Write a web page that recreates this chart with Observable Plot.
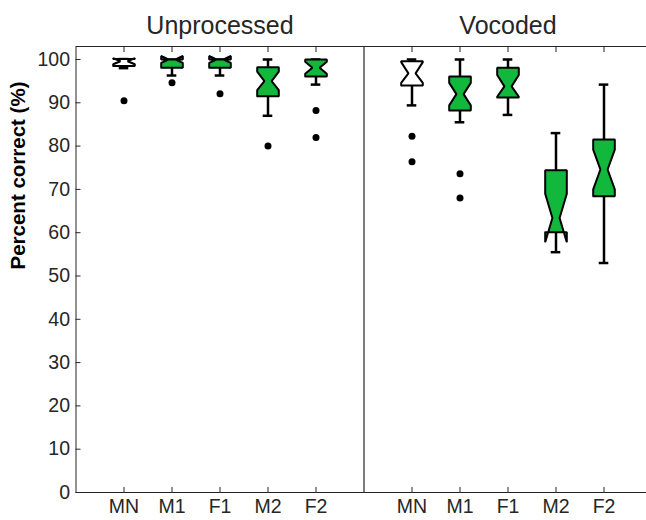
<!DOCTYPE html>
<html>
<head>
<meta charset="utf-8">
<script src="https://cdn.jsdelivr.net/npm/d3@7"></script>
<script src="https://cdn.jsdelivr.net/npm/@observablehq/plot@0.6"></script>
<style>
  html, body { margin: 0; padding: 0; background: #fff; }
  #chart svg { max-width: none !important; }
</style>
</head>
<body>
<div id="chart"></div>
<script>
// ---- data ----
const groups = ["MN", "M1", "F1", "M2", "F2"];
const conditions = ["Unprocessed", "Vocoded"];
// rows: Unprocessed, Vocoded ; columns follow groups
const whiskerLo = [[98.0, 96.3, 96.3, 87.0, 94.2], [89.4, 85.5, 87.2, 55.5, 53.0]];
const q1        = [[98.5, 98.1, 98.1, 91.5, 96.1], [94.0, 88.2, 91.2, 60.1, 68.4]];
const notchLo   = [[98.9, 99.2, 99.2, 92.9, 96.7], [94.6, 89.4, 91.4, 57.8, 70.0]];
const median    = [[99.6, 100, 100, 95.0, 98.1], [96.8, 92.0, 93.8, 63.4, 74.6]];
const notchHi   = [[100.3, 100.8, 100.8, 97.2, 99.5], [99.4, 94.6, 96.4, 69.0, 79.2]];
const q3        = [[100.1, 100, 100, 98.2, 100], [99.6, 96.1, 98.1, 74.4, 81.5]];
const whiskerHi = [[100.1, 100, 100, 100, 100], [100, 100, 100, 83.0, 94.2]];
const outliers  = [[[90.5], [94.6], [92.1], [80.0], [88.2, 82.0]],
                   [[82.3, 76.4], [73.6, 68.0], [], [], []]];
const yTicks = [0, 10, 20, 30, 40, 50, 60, 70, 80, 90, 100];

// ---- derived tables ----
const W = 0.225, D = 0.15, CAP = 0.1;
const boxes = [], polys = [], dots = [];
conditions.forEach((c, ci) => {
  groups.forEach((g, gi) => {
    const p = ci * 6 + gi + 1;
    const b = {id: c + g, p, group: g, cond: c,
      wl: whiskerLo[ci][gi], q1: q1[ci][gi], nl: notchLo[ci][gi], med: median[ci][gi],
      nh: notchHi[ci][gi], q3: q3[ci][gi], wh: whiskerHi[ci][gi],
      fill: g === "MN" ? "white" : "#12b83c"};
    boxes.push(b);
    const L = p - W, R = p + W;
    [[L, b.q1], [L, b.nl], [L + D, b.med], [L, b.nh], [L, b.q3],
     [R, b.q3], [R, b.nh], [R - D, b.med], [R, b.nl], [R, b.q1], [L, b.q1]]
      .forEach(([x, y]) => polys.push({id: b.id, x, y, fill: b.fill}));
    outliers[ci][gi].forEach(v => dots.push({p, v}));
  });
});
const xTicks = [];
conditions.forEach((c, ci) => groups.forEach((g, gi) => xTicks.push(ci * 6 + gi + 1)));
const xLabel = x => groups[(x - 1) % 6];

const ink = "#262626";
const chart = Plot.plot({
  width: 646,
  height: 520,
  marginLeft: 75.5,
  marginRight: -5.5,
  marginTop: 46,
  marginBottom: 28,
  style: {fontFamily: "'Liberation Sans', Arial, Helvetica, sans-serif", fontSize: "19px", color: ink, background: "white"},
  x: {domain: [0, 12], axis: null},
  y: {domain: [0, 103], axis: null},
  marks: [
    Plot.frame({stroke: ink, strokeWidth: 1}),
    Plot.ruleX([6], {stroke: ink, strokeWidth: 1.2}),
    Plot.axisY({ticks: yTicks, tickSize: -5, tickPadding: 11, stroke: ink, fill: ink, label: null, fontSize: 19.5}),
    Plot.axisY({ticks: yTicks, anchor: "right", tickSize: -5, tickFormat: () => "", stroke: ink, label: null}),
    Plot.axisX({ticks: xTicks, tickSize: -5, tickPadding: 12, tickFormat: xLabel, stroke: ink, fill: ink, label: null, fontSize: 19.5}),
    Plot.axisX({ticks: xTicks, anchor: "top", tickSize: -5, tickFormat: () => "", stroke: ink, label: null}),
    // whiskers
    Plot.ruleX(boxes, {x: "p", y1: "q3", y2: "wh", stroke: "black", strokeWidth: 2.5}),
    Plot.ruleX(boxes, {x: "p", y1: "wl", y2: "q1", stroke: "black", strokeWidth: 2.5}),
    Plot.ruleY(boxes, {y: "wh", x1: d => d.p - CAP, x2: d => d.p + CAP, stroke: "black", strokeWidth: 2.5}),
    Plot.ruleY(boxes, {y: "wl", x1: d => d.p - CAP, x2: d => d.p + CAP, stroke: "black", strokeWidth: 2.5}),
    // notched boxes
    Plot.line(polys.filter(d => d.fill === "white"), {x: "x", y: "y", z: "id", fill: "white", stroke: "black", strokeWidth: 2, strokeLinejoin: "miter"}),
    Plot.line(polys.filter(d => d.fill !== "white"), {x: "x", y: "y", z: "id", fill: "#12b83c", stroke: "black", strokeWidth: 2, strokeLinejoin: "miter"}),
    // outliers
    Plot.dot(dots, {x: "p", y: "v", r: 3.5, fill: "black", stroke: "none"}),
    // panel titles
    Plot.text(conditions, {x: (d, i) => i * 6 + 3, frameAnchor: "top", dy: -30, text: d => d, fontSize: 25, fill: ink}),
    // y label
    Plot.text(["Percent correct (%)"], {frameAnchor: "left", rotate: -90, dx: -58, text: d => d, fontSize: 20.5, fontWeight: "bold", fill: "black"})
  ]
});
document.getElementById("chart").appendChild(chart);
</script>
</body>
</html>
